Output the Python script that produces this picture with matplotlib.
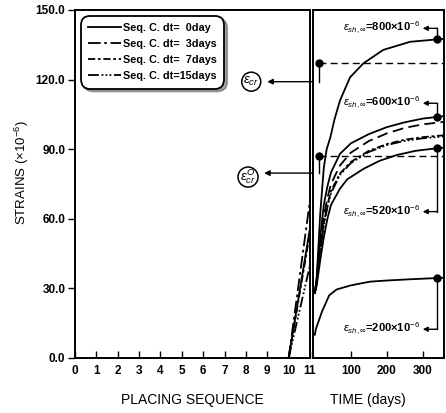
"""
Strain development of the sequentially placed concrete: placing sequence
on the left, long-term creep/shrinkage strains over time on the right.
"""

import matplotlib
matplotlib.use("Agg")
import matplotlib.pyplot as plt
import numpy as np

plt.rcParams["font.family"] = ["Liberation Sans", "DejaVu Sans"]
plt.rcParams["mathtext.fontset"] = "custom"
plt.rcParams["mathtext.rm"] = "Liberation Sans"
plt.rcParams["mathtext.it"] = "Liberation Sans:italic"
plt.rcParams["mathtext.bf"] = "Liberation Sans:bold"

# ---- placing sequence (left panel) ----
seq_x = [10, 11]
seq_0day = [0.0, 56.0]
seq_3days = [0.0, 68.0]
seq_7days = [0.0, 54.0]
seq_15days = [0.0, 40.0]

# ---- time histories (right panel) ----
t_800 = [0, 5, 15, 25, 33, 43, 55, 70, 98, 135, 190, 265, 345, 360]
s_800 = [28, 34, 62, 82, 90, 95, 103, 111, 121, 127, 132.8, 136.3, 137.4, 137.6]

t_600 = [0, 5, 15, 25, 35, 45, 70, 100, 150, 200, 250, 300, 345, 360]
s_600 = [28, 34, 52, 66, 74, 80, 88, 92.5, 96.5, 99.5, 101.6, 103.2, 104.0, 104.3]

t_dt = [0, 5, 15, 25, 35, 45, 70, 100, 150, 200, 250, 300, 360]
s_3days = [28, 33, 49, 61, 69, 75, 83, 88.5, 93.5, 96.8, 99.2, 100.7, 101.8]
s_7days = [28, 32, 47, 58, 66, 72, 79.5, 84.5, 89.3, 92.2, 94.1, 95.2, 96.0]
s_15days = [28, 32, 46, 57, 65, 71, 79, 84, 88.8, 91.8, 93.6, 94.7, 95.5]

t_520 = [0, 5, 15, 25, 35, 45, 70, 90, 135, 180, 228, 280, 345, 360]
s_520 = [28, 31, 42, 52, 60, 66, 73, 77, 81.5, 85, 87.5, 89.3, 90.5, 90.7]

t_200 = [0, 3, 20, 40, 60, 100, 153, 200, 260, 345, 360]
s_200 = [10, 12.5, 20, 27, 29.5, 31.3, 32.9, 33.4, 33.9, 34.5, 34.6]

eps_cr = 127.0
eps_cr0 = 87.0
t_cr = 13

shrink_labels = ["800", "600", "520", "200"]
mark_t = 340
# where each bracket turns towards its label
label_y = [142.1, 109.8, 63.1, 12.4]

legend_labels = ["Seq. C. dt=  0day", "Seq. C. dt=  3days",
                 "Seq. C. dt=  7days", "Seq. C. dt=15days"]

LW = 1.3
STYLE_0 = dict(color="black", lw=LW, linestyle="-")
STYLE_3 = dict(color="black", lw=LW, dashes=(7, 2, 1.5, 2))
STYLE_7 = dict(color="black", lw=LW, dashes=(4, 1.5, 1.5, 1.5))
STYLE_15 = dict(color="black", lw=LW, dashes=(6, 1.5, 1, 1.2, 1, 1.2, 1, 1.5))

fig = plt.figure(figsize=(4.46, 4.13), dpi=100)
W, H = 446, 413
ax1 = fig.add_axes([75 / W, 55 / H, 235 / W, 348 / H])
ax2 = fig.add_axes([313 / W, 55 / H, 131 / W, 348 / H])

for ax in (ax1, ax2):
    for sp in ax.spines.values():
        sp.set_linewidth(1.4)
    ax.set_ylim(0, 150)

# left panel
h0, = ax1.plot(seq_x, seq_0day, **STYLE_0)
h3, = ax1.plot(seq_x, seq_3days, **STYLE_3)
h7, = ax1.plot(seq_x, seq_7days, **STYLE_7)
h15, = ax1.plot(seq_x, seq_15days, **STYLE_15)

ax1.set_xlim(0, 11)
ax1.set_xticks(range(0, 12))
ax1.set_yticks(np.arange(0, 151, 30))
ax1.set_yticklabels([f"{v:.1f}" for v in np.arange(0, 151, 30)])
ax1.tick_params(axis="x", direction="in", length=5, width=1, pad=5, labelsize=8.5)
ax1.tick_params(axis="y", direction="out", length=5, width=1, pad=2, labelsize=8.5)
for lab in ax1.get_xticklabels() + ax1.get_yticklabels():
    lab.set_fontweight("bold")

leg = ax1.legend([h0, h3, h7, h15], legend_labels, loc="upper left",
                 bbox_to_anchor=(0.015, 0.99), handlelength=3.0,
                 handletextpad=0.2, labelspacing=0.55, borderpad=0.4,
                 fancybox=True, shadow=True, framealpha=1,
                 prop={"weight": "bold", "size": 7.8})
leg.get_frame().set_edgecolor("black")
leg.get_frame().set_linewidth(1.3)
leg.get_frame().set_boxstyle("round,pad=0.3,rounding_size=0.9")

# right panel
ax2.plot(t_800, s_800, **STYLE_0)
ax2.plot(t_600, s_600, **STYLE_0)
ax2.plot(t_dt, s_3days, color="black", lw=LW, dashes=(6, 3))
ax2.plot(t_dt, s_7days, **STYLE_7)
ax2.plot(t_dt, s_15days, **STYLE_15)
ax2.plot(t_520, s_520, **STYLE_0)
ax2.plot(t_200, s_200, **STYLE_0)

ax2.set_xlim(-5, 359)
ax2.set_xticks([100, 200, 300])
ax2.set_yticks([])
ax2.tick_params(axis="x", direction="in", length=5, width=1, pad=5, labelsize=8.5)
for lab in ax2.get_xticklabels():
    lab.set_fontweight("bold")

# cracking strain levels
for level in (eps_cr, eps_cr0):
    ax2.plot([t_cr, 359], [level, level], color="black", lw=1, dashes=(5, 3))
    ax2.plot(t_cr, level, "o", color="black", ms=5)

corner_y = [119.1, 79.7]
circle_pos = [(8.25, 119.1), (8.1, 78.0)]
circle_txt = [r"$\varepsilon_{cr}$", r"$\varepsilon^{O}_{cr}$"]
circle_pad = [0.12, 0.05]
for level, cy, (cx, ly), txt, pad in zip((eps_cr, eps_cr0), corner_y, circle_pos,
                                          circle_txt, circle_pad):
    ax2.plot([t_cr, t_cr], [level, cy], color="black", lw=1, clip_on=False)
    ax1.annotate("", xy=(cx + 0.75, cy), xycoords=ax1.transData,
                 xytext=(t_cr, cy), textcoords=ax2.transData,
                 arrowprops=dict(arrowstyle="-|>", color="black", lw=1,
                                 mutation_scale=8, shrinkA=0, shrinkB=0))
    ax1.text(cx, ly, txt, ha="center", va="center", fontsize=9.5,
             bbox=dict(boxstyle=f"circle,pad={pad}", fc="white", ec="black", lw=1.1))

# final shrinkage strain brackets
curves = [(t_800, s_800), (t_600, s_600), (t_520, s_520), (t_200, s_200)]
for (tt, ss), lab, ly in zip(curves, shrink_labels, label_y):
    my = np.interp(mark_t, tt, ss)
    ax2.plot(mark_t, my, "o", color="black", ms=5, clip_on=False)
    ax2.plot([mark_t, mark_t], [my, ly], color="black", lw=1)
    ax2.annotate("", xy=(300, ly), xytext=(mark_t, ly),
                 arrowprops=dict(arrowstyle="-|>", color="black", lw=1,
                                 mutation_scale=7, shrinkA=0, shrinkB=0))
    ax2.text(293, ly, r"$\varepsilon_{sh,\infty}$" + f"={lab}×10" + r"$^{-6}$",
             ha="right", va="center", fontsize=8, fontweight="bold")

fig.text(22 / W, 1 - 173 / H, r"STRAINS ($\times$10$^{-6}$)", rotation=90,
         ha="center", va="center", fontsize=9.5)
fig.text(192 / W, 1 - 400 / H, "PLACING SEQUENCE", ha="center", va="center",
         fontsize=10)
fig.text(368 / W, 1 - 400 / H, "TIME (days)", ha="center", va="center",
         fontsize=10)

fig.savefig("out.png", dpi=100)
